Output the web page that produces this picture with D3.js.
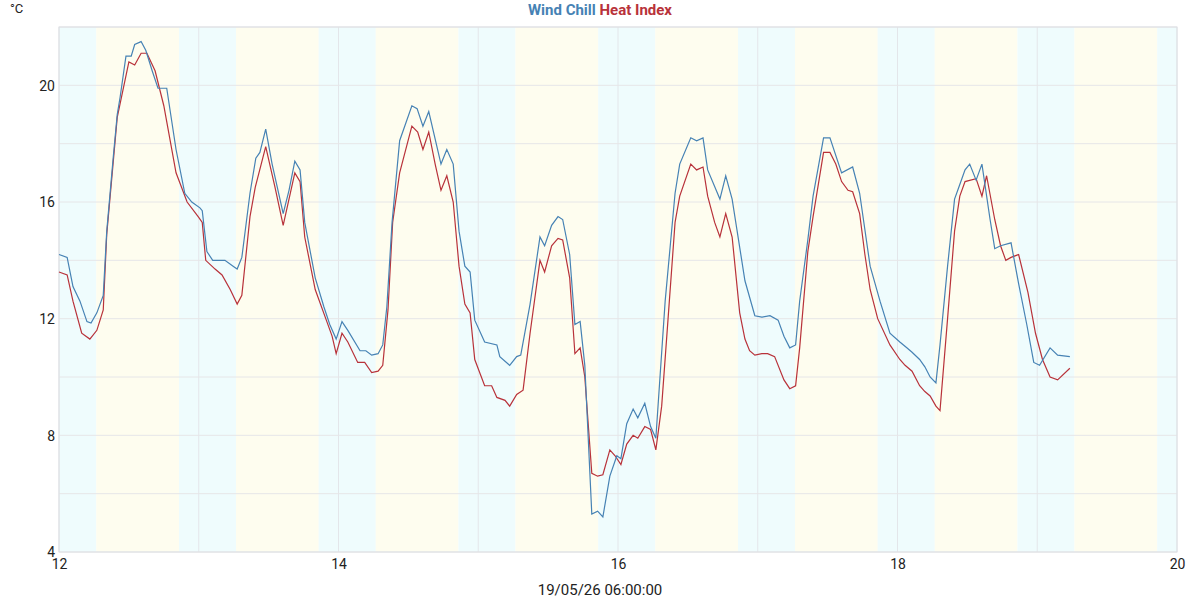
<!DOCTYPE html>
<html><head><meta charset="utf-8">
<script src="https://cdn.jsdelivr.net/npm/d3@7"></script>
<style>body{margin:0;background:#fff;font-family:Roboto,"Noto Sans",sans-serif}</style>
</head><body><svg id="c" width="1200" height="600"></svg>
<script>
// hours since day 12 00:00, and values (°C)
const chillHours=[0,1.4,2.4,3.6,4.8,5.5,6.5,7.6,8.2,9.3,10.0,10.5,11.5,12.4,13.0,14.1,14.9,16.0,17.0,18.5,20.1,21.6,22.8,24.2,24.6,25.4,26.4,28.5,29.9,30.6,31.4,32.8,33.8,34.5,35.5,36.6,38.5,39.5,40.5,41.4,42.2,44.0,45.5,46.5,47.6,48.6,49.6,51.7,52.7,53.7,54.8,55.6,56.3,57.2,58.5,60.6,61.5,62.5,63.5,65.6,66.6,67.7,68.7,69.7,70.6,71.4,73.1,75.2,75.7,77.4,78.6,79.3,80.9,82.6,83.4,84.6,85.7,86.5,87.7,88.6,89.5,90.3,91.5,92.5,93.4,94.6,95.8,96.5,97.5,98.6,99.4,100.6,101.6,102.5,104.1,105.8,106.6,108.5,109.5,110.6,111.4,113.5,114.5,115.6,117.8,119.5,120.7,122.1,123.5,124.5,125.5,126.5,127.2,128.6,129.5,131.3,132.4,134.4,136.3,137.5,139.3,141.0,142.7,144.4,145.6,146.5,147.8,148.7,149.6,150.6,151.3,152.6,153.8,154.7,155.6,156.4,157.5,158.5,159.9,160.7,161.7,163.5,164.8,166.2,167.4,168.4,170.2,171.5,173.6];
const chillValues=[14.2,14.1,13.1,12.6,11.9,11.85,12.2,12.8,15.0,17.5,19.0,19.6,21.0,21.0,21.4,21.5,21.2,20.5,19.9,19.9,17.8,16.3,16.0,15.8,15.7,14.3,14.0,14.0,13.8,13.7,14.1,16.3,17.5,17.7,18.5,17.3,15.6,16.4,17.4,17.1,15.3,13.4,12.4,11.8,11.3,11.9,11.6,10.9,10.9,10.75,10.8,11.1,12.4,15.3,18.1,19.3,19.2,18.6,19.1,17.3,17.8,17.3,15.0,13.8,13.6,11.95,11.2,11.1,10.7,10.4,10.7,10.75,12.5,14.8,14.5,15.2,15.5,15.4,14.2,11.8,11.9,10.4,5.3,5.4,5.2,6.6,7.3,7.2,8.4,8.9,8.6,9.1,8.3,7.9,12.6,16.3,17.3,18.2,18.1,18.2,17.1,16.1,16.9,16.1,13.3,12.1,12.05,12.1,11.95,11.4,11.0,11.1,12.6,14.7,16.2,18.2,18.2,17.0,17.2,16.3,13.8,12.6,11.5,11.2,11.0,10.85,10.6,10.35,10.0,9.8,11.1,13.8,16.1,16.6,17.1,17.3,16.75,17.3,15.4,14.4,14.5,14.6,13.2,11.8,10.5,10.4,11.0,10.75,10.7];
const heatHours=[0,1.4,2.4,3.9,5.3,6.5,7.6,8.2,10.0,12.0,13.0,14.1,15.1,16.5,18.0,20.1,22.0,23.9,24.6,25.2,26.8,28.0,29.4,30.6,31.4,32.8,33.7,35.5,37.1,38.5,40.5,41.4,42.2,44.0,46.0,46.9,47.6,48.6,49.6,51.3,52.5,53.7,54.8,55.6,56.5,57.3,58.5,60.6,61.6,62.5,63.5,64.6,65.6,66.6,67.7,68.7,69.7,70.6,71.4,73.1,74.3,75.2,76.6,77.4,78.6,79.7,80.9,82.6,83.4,84.6,85.7,86.5,87.7,88.6,89.5,90.3,91.5,92.5,93.4,94.6,95.5,96.5,97.5,98.6,99.4,100.6,101.6,102.5,103.5,104.6,105.8,106.6,108.5,109.5,110.6,111.4,112.6,113.5,114.5,115.6,116.9,117.8,118.6,119.5,120.7,121.7,122.9,124.5,125.5,126.5,127.2,128.6,129.5,131.3,132.4,133.4,134.4,135.5,136.3,137.5,138.4,139.3,140.6,142.7,144.4,145.3,146.5,147.8,148.7,149.6,150.6,151.3,152.6,153.8,154.7,155.6,157.5,158.5,159.3,160.7,161.7,162.6,163.5,164.8,166.4,167.7,168.9,170.2,171.5,173.6];
const heatValues=[13.6,13.5,12.6,11.5,11.3,11.6,12.3,14.9,18.9,20.8,20.7,21.1,21.1,20.5,19.3,17.0,16.0,15.5,15.3,14.0,13.7,13.5,13.0,12.5,12.8,15.5,16.5,17.9,16.5,15.2,17.0,16.7,14.8,13.0,11.9,11.4,10.8,11.5,11.2,10.5,10.5,10.15,10.2,10.4,12.3,15.3,17.0,18.6,18.4,17.8,18.4,17.3,16.4,16.9,16.0,13.8,12.5,12.2,10.6,9.7,9.7,9.3,9.2,9.0,9.4,9.55,11.5,14.0,13.6,14.5,14.75,14.7,13.4,10.8,11.0,10.0,6.7,6.6,6.65,7.5,7.3,7.0,7.7,8.0,7.9,8.3,8.2,7.5,9.0,12.0,15.3,16.2,17.3,17.1,17.2,16.2,15.3,14.8,15.6,14.8,12.2,11.3,10.9,10.75,10.8,10.8,10.7,9.9,9.6,9.7,11.0,14.3,15.5,17.7,17.7,17.3,16.7,16.4,16.35,15.6,14.2,13.0,12.0,11.1,10.6,10.4,10.2,9.7,9.5,9.35,9.0,8.85,12.0,15.0,16.2,16.7,16.8,16.2,16.9,15.4,14.5,14.0,14.1,14.2,12.9,11.5,10.6,10.0,9.9,10.3,10.0];
const days=[12,13,14,15,16,17,18,19];
const sunriseHour=6.4, sunsetHour=20.6;
const xTicks=[12,14,16,18,20];
const yTicks=[4,8,12,16,20];
const xLabel="19/05/26 06:00:00";

const svg=d3.select("#c");
const m={l:59,r:1177,t:27,b:552};
const x=d3.scaleLinear().domain([12,20]).range([m.l,m.r]);
const y=d3.scaleLinear().domain([4,22]).range([m.b,m.t]);
const g=svg.append("g");
days.forEach(d=>{
  const sr=d+sunriseHour/24, ss=d+sunsetHour/24;
  g.append("rect").attr("x",x(d)).attr("y",m.t).attr("width",x(sr)-x(d)).attr("height",m.b-m.t).attr("fill","#effcfd");
  g.append("rect").attr("x",x(sr)).attr("y",m.t).attr("width",x(ss)-x(sr)).attr("height",m.b-m.t).attr("fill","#fefdef");
  g.append("rect").attr("x",x(ss)).attr("y",m.t).attr("width",x(Math.min(d+1,20))-x(ss)).attr("height",m.b-m.t).attr("fill","#effcfd");
});
d3.range(12,21,1).forEach(v=>g.append("line").attr("x1",x(v)).attr("x2",x(v)).attr("y1",m.t).attr("y2",m.b).attr("stroke","#e3e6ea"));
d3.range(4,23,2).forEach(v=>g.append("line").attr("x1",m.l).attr("x2",m.r).attr("y1",y(v)).attr("y2",y(v)).attr("stroke","#e6e6e8"));
g.append("rect").attr("x",m.l).attr("y",m.t).attr("width",m.r-m.l).attr("height",m.b-m.t).attr("fill","none").attr("stroke","#dde0e4");
const xa=svg.append("g").attr("transform",`translate(0,${m.b})`).call(d3.axisBottom(x).tickValues(xTicks).tickSize(0).tickPadding(7));
const ya=svg.append("g").attr("transform",`translate(${m.l},0)`).call(d3.axisLeft(y).tickValues(yTicks).tickSize(0).tickPadding(4));
[xa,ya].forEach(a=>{a.select(".domain").remove();a.selectAll("text").attr("font-size",14).attr("fill","#222").attr("font-family","Roboto");});
ya.selectAll("text").attr("dy","0.35em");
const line=(hs)=>d3.line().x((v,i)=>x(12+hs[i]/24)).y(v=>y(v));
svg.append("path").attr("d",line(heatHours)(heatValues)).attr("fill","none").attr("stroke","#b8323a").attr("stroke-width",1.2);
svg.append("path").attr("d",line(chillHours)(chillValues)).attr("fill","none").attr("stroke","#4682b4").attr("stroke-width",1.2);
const t=svg.append("text").attr("x",600).attr("y",15).attr("text-anchor","middle").attr("font-size",15).attr("font-weight","bold").attr("font-family","Roboto");
t.append("tspan").attr("fill","#4682b4").text("Wind Chill");
t.append("tspan").attr("fill","#b8323a").text(" Heat Index");
svg.append("text").attr("x",10).attr("y",13).attr("font-size",13).attr("fill","#222").text("°C");
svg.append("text").attr("x",600).attr("y",595).attr("text-anchor","middle").attr("font-size",15).attr("fill","#222").text(xLabel);
</script></body></html>
